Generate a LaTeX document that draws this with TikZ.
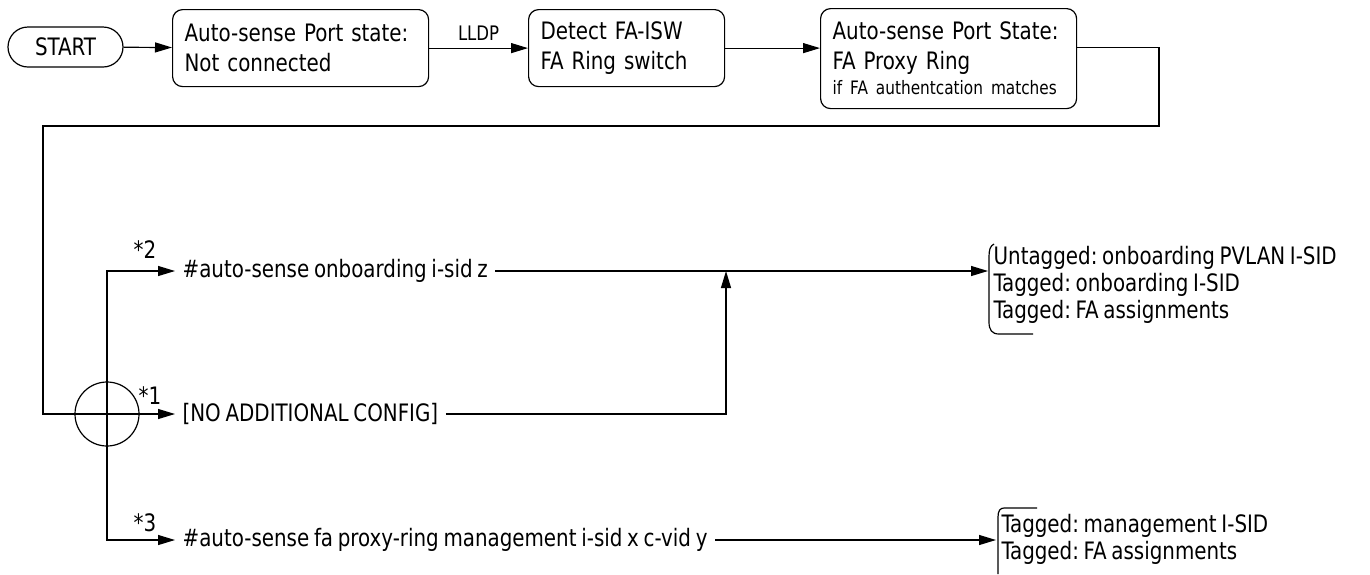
\documentclass[tikz,border=0pt]{standalone}
\usepackage{fontspec}
\setmainfont[FakeStretch=0.92, WordSpace=0.75]{DejaVu Sans Condensed}
\usetikzlibrary{arrows.meta}
\frenchspacing
\begin{document}
\begin{tikzpicture}[x=1pt, y=-1pt, line width=1.2pt,
        every node/.style={font=\fontsize{24}{30}\selectfont},
        pill/.style={draw, rounded corners=20pt, minimum width=115pt, minimum height=40pt},
        stepbox/.style={draw, rounded corners=10pt, align=left, inner xsep=12pt, anchor=north west},
        cmd/.style={anchor=west, inner xsep=7pt},
        result/.style={anchor=west, align=left, inner xsep=5pt, font=\fontsize{24}{27}\selectfont},
        star/.style={inner sep=0pt},
        flow/.style={-{Triangle[length=17pt,width=10pt]}}
    ]
    \useasboundingbox (0,0) rectangle (1370,574);

    % top row
    \node[pill] (start) at (65.5,47) {START};
    \node[stepbox, text width=232pt, minimum height=77pt] (notconn) at (172,9)
        {Auto-sense Port state:\\Not connected};
    \node[stepbox, text width=172pt, minimum height=77pt] (detect) at (528,9)
        {Detect FA-ISW\\FA Ring switch};
    \node[stepbox, text width=232pt, minimum height=100pt] (proxy) at (820,8)
        {Auto-sense Port State:\\FA Proxy Ring\\[-5pt]\mbox{\fontsize{18.5}{24}\selectfont if FA authentcation matches}};

    \draw[flow] (start) -- (notconn);
    \draw[flow] (notconn) -- node[above=4pt, font=\fontsize{20}{22}\selectfont] {LLDP} (detect);
    \draw[flow] (detect.east) -- (detect.east -| proxy.west);

    % config choices
    \node[circle, draw, minimum size=64pt, inner sep=0pt] (hub) at (107,414) {};
    \node[cmd] (onb) at (175,271) {\#auto-sense onboarding i-sid z};
    \node[cmd] (cfg) at (175,414) {[NO ADDITIONAL CONFIG]};
    \node[cmd] (mgmt) at (175,540) {\#auto-sense fa proxy-ring management i-sid x c-vid y};

    \node[star] (s2) at (145,250) {*2};
    \node[star] (s1) at (150,396) {*1};
    \node[star] (s3) at (145,523) {*3};

    \coordinate (rturn) at (1159,126);
    \coordinate (lturn) at (43,126);
    \coordinate (join) at (726,271);

    \draw[flow] ([yshift=11pt]proxy.east) -| (rturn) -- (lturn) |- (cfg.west);
    \draw[flow] (hub.center) |- (onb.west);
    \draw[flow] (hub.center) |- (mgmt.west);
    \draw[flow] (cfg.east) -| (join);

    % results
    \node[result] (tag1) at (988,285)
        {Untagged: onboarding PVLAN I-SID\\Tagged: onboarding I-SID\\Tagged: FA assignments};
    \node[result] (tag2) at (996,539)
        {Tagged: management I-SID\\Tagged: FA assignments};

    \draw[flow] (onb.east) -- (onb.east -| tag1.west);
    \draw[flow] (mgmt.east) -- (mgmt.east -| tag2.west);

    \draw (994,244) .. controls (990,246) and (989,250) .. (989,257) -- (989,322)
        .. controls (989,330) and (992,334) .. (999,334) -- (1033,334);
    \draw (1037,508) -- (1004,508) .. controls (1000,508) and (998,511) .. (998,517) -- (998,574);
\end{tikzpicture}
\end{document}
